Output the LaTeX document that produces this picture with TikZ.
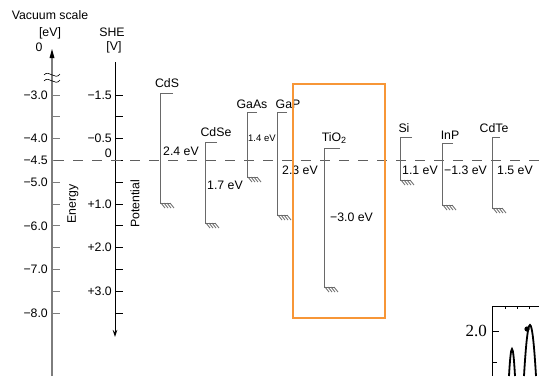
\documentclass[tikz,border=0pt]{standalone}
\usepackage{fontspec}
\setmainfont{Liberation Sans}
\newfontfamily\seriffont{Liberation Serif}
\usetikzlibrary{arrows.meta,calc}
\definecolor{bandgray}{RGB}{105,105,105}
\definecolor{axisgray}{RGB}{125,125,125}
\definecolor{dashgray}{RGB}{95,95,95}
\definecolor{boxorange}{RGB}{247,150,55}
\newcommand\semiband[5]{%
  % #1 name, #2 x, #3 top y, #4 bottom y, #5 cb length
  \coordinate (#1top) at (#2,#3);
  \coordinate (#1bot) at (#2,#4);
  \draw[bandline] ($(#1top)+(#5,0)$) -- (#1top) -- (#1bot) -- ++(11,0);
  \foreach \i in {1,4,7,10} {\draw[bandline] ($(#1bot)+(\i,0)$) -- ++(4,5);}
}
\begin{document}
\begin{tikzpicture}[x=1pt,y=-1pt,
  font=\fontsize{12.3}{14}\selectfont,
  lab/.style={inner sep=0pt},
  bandline/.style={draw=bandgray, line width=0.8pt},
  etick/.style={draw=axisgray, line width=0.8pt},
  vtick/.style={draw=black, line width=0.8pt}]
\useasboundingbox (0,0) rectangle (539,376);

% headers
\node[lab] (vac) at (50,15) {Vacuum scale};
\node[lab] (ev) at (50,33) {[eV]};
\node[lab] (she) at (112,32) {SHE};
\node[lab] (vunit) at (114,47) {[V]};
\node[lab] (zero) at (39,47) {0};

% energy axis
\coordinate (ebot) at (52,376);
\coordinate (etop) at (52,49);
\draw[axisgray, line width=1.8pt] (ebot) -- (52,58);
\fill[black] (etop) -- (49.5,58) -- (54.5,58) -- cycle;
\draw[black, line width=0.6pt] (44,75) .. controls (49,69) and (55,81) .. (60,74);
\draw[black, line width=0.6pt] (44,81) .. controls (49,75) and (55,87) .. (60,80);

% SHE axis
\coordinate (stop) at (115,62);
\coordinate (sbot) at (115,337);
\draw[black, line width=0.9pt, -{Stealth[length=7pt,width=4.5pt]}] (stop) -- (sbot);

% ticks
\foreach \y in {95,116.8,138.6,160.4,182.2,204,225.8,247.6,269.4,291.2,313} {
  \draw[etick] (52,\y) -- (60,\y);
  \draw[vtick] (115,\y) -- (123,\y);
}
% energy labels
\node[lab, anchor=east] (e30) at (48,95) {−3.0};
\node[lab, anchor=east] (e40) at (48,138.6) {−4.0};
\node[lab, anchor=east] (e45) at (48,160.4) {−4.5};
\node[lab, anchor=east] (e50) at (48,182.2) {−5.0};
\node[lab, anchor=east] (e60) at (48,225.8) {−6.0};
\node[lab, anchor=east] (e70) at (48,269.4) {−7.0};
\node[lab, anchor=east] (e80) at (48,313) {−8.0};
% potential labels
\node[lab, anchor=east] (v15) at (112,95) {−1.5};
\node[lab, anchor=east] (v05) at (112,138.6) {−0.5};
\node[lab, anchor=east] (v0) at (112,153) {0};
\node[lab, anchor=east] (v10) at (112,204) {+1.0};
\node[lab, anchor=east] (v20) at (112,247.6) {+2.0};
\node[lab, anchor=east] (v30) at (112,291.2) {+3.0};
% axis titles
\node[lab, rotate=90] (energy) at (73,204) {Energy};
\node[lab, rotate=90] (potential) at (135,204) {Potential};

% dashed reference line
\coordinate (dl) at (54,160.4);
\coordinate (dr) at (539,160.4);
\draw[dashgray, line width=0.9pt, dash pattern=on 10pt off 9pt] (dl) -- (dr);

% semiconductors
\semiband{cds}{160}{93}{203}{13}
\node[lab] (cdsl) at (167,83) {CdS};
\node[lab, anchor=west] (cdsg) at (163,151) {2.4 eV};

\semiband{cdse}{205}{142}{223}{12}
\node[lab] (cdsel) at (216,132) {CdSe};
\node[lab, anchor=west] (cdseg) at (207,185) {1.7 eV};

\semiband{gaas}{247}{112}{177}{10}
\node[lab] (gaasl) at (252,104) {GaAs};
\node[lab, anchor=west, font=\fontsize{9.5}{10}\selectfont] (gaasg) at (248,138) {1.4 eV};

\semiband{gap}{277}{112}{215}{10}
\node[lab] (gapl) at (288,104) {GaP};
\node[lab, anchor=west] (gapg) at (282,170) {2.3 eV};

\semiband{tio}{324}{148}{287}{16}
\node[lab] (tiol) at (334,138) {TiO\raisebox{-0.4ex}{\fontsize{9}{10}\selectfont 2}};
\node[lab, anchor=west] (tiog) at (330,217) {−3.0 eV};

\semiband{si}{400}{137}{180}{12}
\node[lab] (sil) at (404,128) {Si};
\node[lab, anchor=west] (sig) at (402,170) {1.1 eV};

\semiband{inp}{442}{143}{205}{11}
\node[lab] (inpl) at (450,135) {InP};
\node[lab, anchor=west] (inpg) at (444,170) {−1.3 eV};

\semiband{cdte}{492}{137}{208}{8}
\node[lab] (cdtel) at (494,128) {CdTe};
\node[lab, anchor=west] (cdteg) at (497,170) {1.5 eV};

% orange highlight box
\draw[boxorange, line width=2.5pt] (293,84) rectangle (385,318);

% partial plot at bottom right
\draw[black, line width=1pt] (539,306) -- (492,306) -- (492,376);
\foreach \x in {505,517,529} {\draw[black, line width=0.6pt] (\x,306) -- (\x,309);}
\draw[black, line width=1pt] (492,331) -- (499,331);
\draw[black, line width=1pt] (492,362) -- (497,362);
\node[lab, anchor=east, font=\seriffont\fontsize{17}{19}\selectfont] (two) at (487,331) {2.0};
\draw[black, line width=1.8pt] (509,376) .. controls (511,340) and (513,340) .. (515,376);
\draw[black, line width=1.8pt] (524,376) .. controls (528,308) and (532,308) .. (536,376);
\fill[black] (527,329) circle (2.6pt);
\end{tikzpicture}
\end{document}
